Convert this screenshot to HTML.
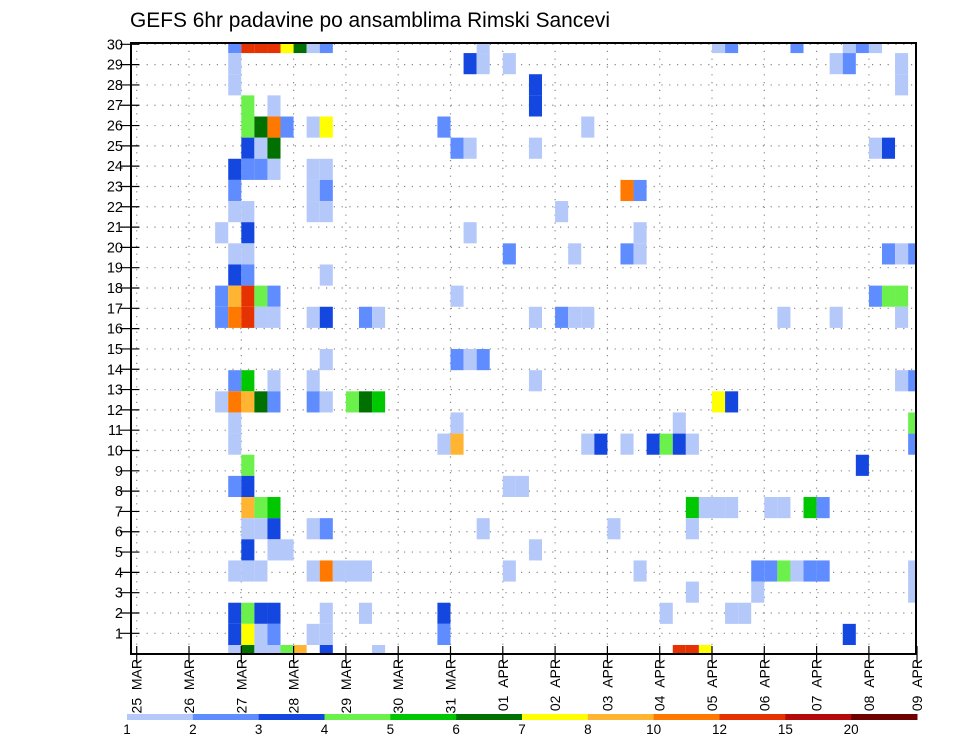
<!DOCTYPE html>
<html><head><meta charset="utf-8"><style>
html,body{margin:0;padding:0;background:#fff;}
svg{display:block;font-family:"Liberation Sans",sans-serif;}
</style></head><body>
<svg id="chart" width="960" height="742" viewBox="0 0 960 742" xmlns="http://www.w3.org/2000/svg">
<text x="130" y="27" font-size="21.5" fill="#000" textLength="480" lengthAdjust="spacingAndGlyphs">GEFS 6hr padavine po ansamblima Rimski Sancevi</text>
<g id="grid"></g>
<g id="cells"></g>
<g id="axes"></g>
<g id="cbar"></g>
</svg>
<script>
// Data
const dayLabels = ["25 MAR","26 MAR","27 MAR","28 MAR","29 MAR","30 MAR","31 MAR","01 APR","02 APR","03 APR","04 APR","05 APR","06 APR","07 APR","08 APR","09 APR"];
const yTicks = [1,2,3,4,5,6,7,8,9,10,11,12,13,14,15,16,17,18,19,20,21,22,23,24,25,26,27,28,29,30];
const levelBounds = [1,2,3,4,5,6,7,8,10,12,15,20];
const levelColors = ["#b4c8fa","#5f8cff","#1446e0","#6cf04c","#00c800","#007000","#ffff00","#ffb432","#ff7800","#e63200","#b40a0a","#6e0000"];
// cells as (6-hour step index, member row, precipitation mm)
const cellRow = [];
const cellCol = [];
const cellVal = [];
const codeVal = {a:1.5,b:2.5,c:3.5,d:4.5,e:5.5,f:6.5,g:7.5,h:9,i:11,j:13.5,k:17,l:25};
const rowSpecs = [
"29:7b,8j,9j,10j,11g,12f,13a,14b,26a,44a,45b,50b,54a,55b,56a",
"28:7a,25c,26a,28a,53a,54b,58a",
"27:7a,30c,58a",
"26:8d,10a,30c",
"25:8d,9f,10i,11b,13a,14g,23b,34a",
"24:8c,9a,10f,24b,25a,30a,56a,57c",
"23:7c,8b,9b,10a,13a,14a",
"22:7b,13a,14b,37i,38b",
"21:7a,8a,13a,14a,32a",
"20:6a,8c,25a,38a",
"19:7a,8a,28b,33a,37b,38a,57b,58a,59b",
"18:7c,8b,14a",
"17:6b,7h,8j,9d,10b,24a,56b,57d,58d",
"16:6b,7i,8j,9a,10a,13a,14c,17b,18a,30a,32b,33a,34a,49a,53a,58a",
"14:14a,24b,25a,26b",
"13:7b,8e,10a,13a,30a,58a,59b",
"12:6a,7i,8h,9f,10b,13b,14a,16d,17f,18e,44g,45c",
"11:7a,24a,41a,59d",
"10:7a,23a,24h,34a,35c,37a,39c,40d,41c,42a,59b",
"9:8d,55c",
"8:7b,8c,28a,29a",
"7:8h,9d,10e,42e,43a,44a,45a,48a,49a,51e,52b",
"6:8a,9a,10c,13a,14b,26a,36a,42a",
"5:8c,10a,11a,30a",
"4:7a,8a,9a,13a,14i,15a,16a,17a,28a,38a,47b,48b,49d,50a,51b,52b,59a",
"3:42a,47a,59a",
"2:7c,8d,9c,10c,14a,17a,23c,40a,45a,46a",
"1:7c,8g,9a,10b,13a,14a,23b,54c",
"0:7a,8f,9a,10a,11d,12h,14c,18a,41j,42j,43g"
];
rowSpecs.forEach(s=>{const [r,list]=s.split(":");list.split(",").forEach(t=>{const m=t.match(/(\d+)([a-l])/);cellRow.push(+r);cellCol.push(+m[1]);cellVal.push(codeVal[m[2]]);});});

const NS="http://www.w3.org/2000/svg";
const PL=131,PR=916,PT=43,PB=654;
const day0=136.7, dayW=52.3;
const xStep=c=>day0+c*dayW/4;
const xDay=d=>day0+d*dayW;
const cellH=21.14;
const yCellTop=r=>645-r*cellH;
const yTick=v=>653.6-v*20.31;
function colorFor(v){let k=0;for(let i=0;i<levelBounds.length;i++){if(v>=levelBounds[i])k=i;}return levelColors[k];}
function mk(tag,attrs,parent){const e=document.createElementNS(NS,tag);for(const k in attrs)e.setAttribute(k,attrs[k]);parent.appendChild(e);return e;}

const grid=document.getElementById('grid');
yTicks.forEach(v=>{const l=mk('line',{x1:PL,x2:PR,y1:yTick(v),y2:yTick(v),stroke:'#888','stroke-width':1.2,'stroke-dasharray':'1.2,6.6'},grid);

});
dayLabels.forEach((d,i)=>{const x=xDay(i);if(x>PR)return;const l=mk('line',{x1:x,x2:x,y1:PT,y2:PB,stroke:'#888','stroke-width':1.2,'stroke-dasharray':'1.2,6.6'},grid);

});

const cells=document.getElementById('cells');
for(let i=0;i<cellVal.length;i++){
  let x=xStep(cellCol[i]),w=dayW/4;
  if(x+w>PR)w=PR-x;
  let y=yCellTop(cellRow[i]),h=cellH;
  if(y<PT){h-= (PT-y);y=PT;}
  if(y+h>PB)h=PB-y;
  const r=mk('rect',{x:x.toFixed(2),y:y.toFixed(2),width:w.toFixed(2),height:h.toFixed(2),fill:colorFor(cellVal[i])},cells);
  
  
}

const axes=document.getElementById('axes');
const frame=mk('rect',{x:PL,y:PT,width:PR-PL,height:PB-PT,fill:'none',stroke:'#000','stroke-width':2},axes);


yTicks.forEach(v=>{const y=yTick(v);
 const t=mk('line',{x1:120,x2:139,y1:y,y2:y,stroke:'#000','stroke-width':1.2},axes);
 
 
 const tx=mk('text',{x:123,y:y+5,'font-size':14.5,'text-anchor':'end',fill:'#000'},axes);
 tx.textContent=v;
 
 });
dayLabels.forEach((d,i)=>{let x=xDay(i);if(x>PR)x=PR+1;
 const t=mk('line',{x1:x,x2:x,y1:646,y2:663,stroke:'#000','stroke-width':1.2},axes);
 
 
 const tx=mk('text',{x:0,y:0,'font-size':14,'text-anchor':'end',fill:'#000','xml:space':'preserve',transform:`translate(${x+5},${659}) rotate(-90)`},axes);
 tx.textContent=d.replace(' ','\u00a0\u00a0');
 
 });

const cbar=document.getElementById('cbar');
const cbX=127,cbW=(917-127)/levelColors.length;
levelColors.forEach((c,i)=>{const r=mk('rect',{x:cbX+i*cbW,y:714,width:cbW+0.5,height:6,fill:c},cbar);
 
 
 const t=mk('text',{x:cbX+i*cbW,y:734,'font-size':13.5,'text-anchor':'middle',fill:'#000'},cbar);
 t.textContent=levelBounds[i];
 
 });
</script>
</body></html>
